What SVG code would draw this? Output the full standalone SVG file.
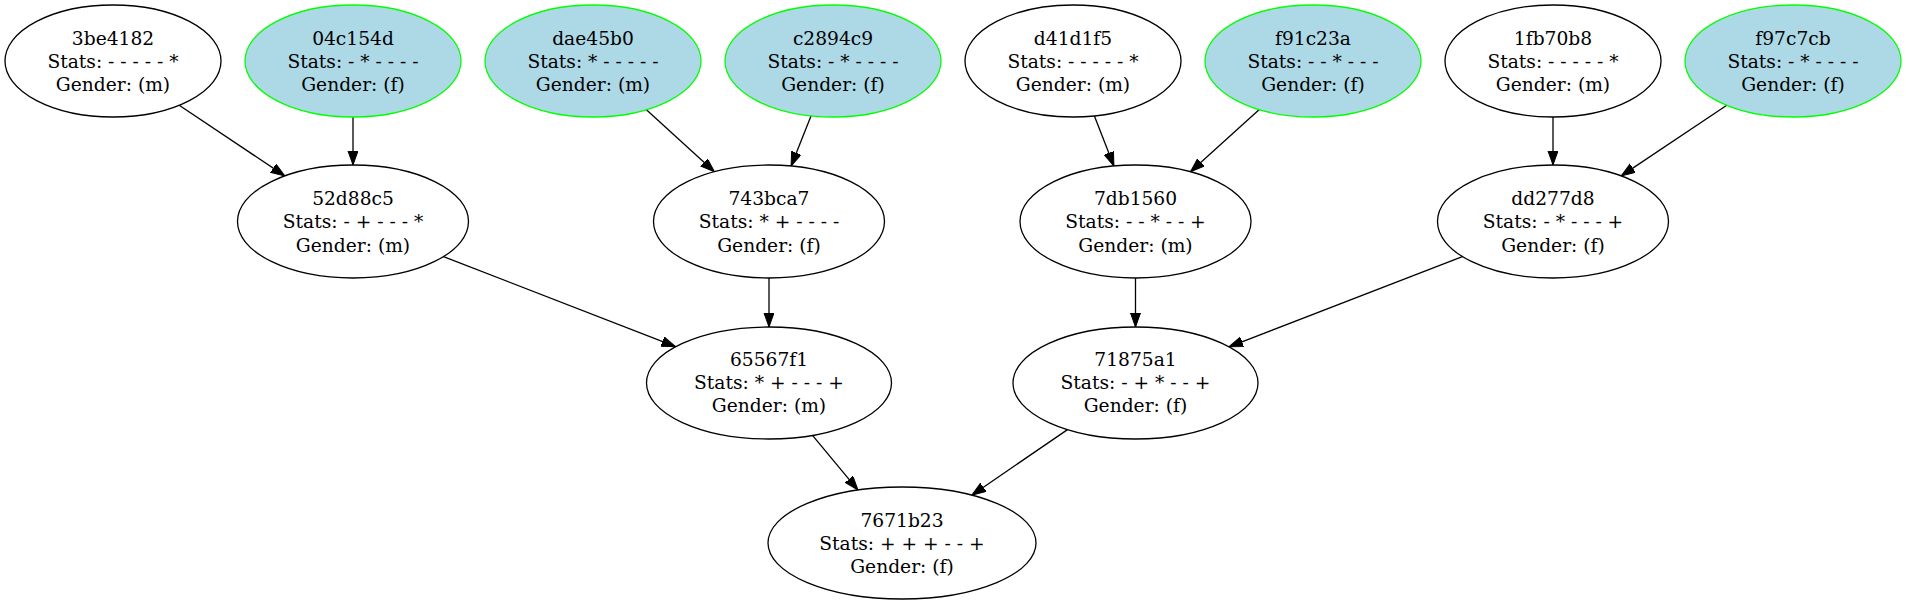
<svg xmlns="http://www.w3.org/2000/svg" width="1906" height="605" viewBox="0 0 1906 605">
<style>
.n ellipse{fill:#ffffff;stroke:#000000;stroke-width:1.3}
.n.h ellipse{fill:#add8e6;stroke:#00ff00}
.n text{font-family:"DejaVu Serif","Liberation Serif",serif;font-size:18.67px;fill:#000000;text-anchor:middle}
#edges line{stroke:#000000;stroke-width:1.3;marker-end:url(#ah)}
</style>
<defs>
<marker id="ah" markerUnits="userSpaceOnUse" markerWidth="16" markerHeight="12" refX="14" refY="5" orient="auto">
<path d="M0,0 L14,5 L0,10 Z" fill="#000000" stroke="#000000" stroke-width="1"/>
</marker>
</defs>
<rect width="1906" height="605" fill="#ffffff"/>
<g id="edges">
<line x1="179.2" y1="105.3" x2="284.8" y2="175.9"/>
<line x1="353" y1="117" x2="353" y2="165"/>
<line x1="646.4" y1="109.7" x2="714.4" y2="171.7"/>
<line x1="811.1" y1="115.8" x2="791.1" y2="166"/>
<line x1="1094.4" y1="115.9" x2="1113.9" y2="166"/>
<line x1="1259.3" y1="109.6" x2="1190.5" y2="171.8"/>
<line x1="1553" y1="117" x2="1553" y2="165"/>
<line x1="1726.8" y1="105.3" x2="1621.2" y2="175.9"/>
<line x1="443.5" y1="256.6" x2="675.6" y2="346.7"/>
<line x1="769" y1="278" x2="769" y2="327"/>
<line x1="1135.5" y1="278" x2="1135.5" y2="327"/>
<line x1="1462.4" y1="256.6" x2="1229" y2="346.8"/>
<line x1="812.5" y1="435.3" x2="858" y2="490.1"/>
<line x1="1067.5" y1="429.6" x2="971.8" y2="495.2"/>
</g>
<g id="n3be4182" class="n"><ellipse cx="113" cy="61" rx="108" ry="56"/><text x="113" y="45">3be4182</text><text x="113" y="68">Stats: - - - - - *</text><text x="113" y="91">Gender: (m)</text></g>
<g id="n04c154d" class="n h"><ellipse cx="353" cy="61" rx="108" ry="56"/><text x="353" y="45">04c154d</text><text x="353" y="68">Stats: - * - - - -</text><text x="353" y="91">Gender: (f)</text></g>
<g id="ndae45b0" class="n h"><ellipse cx="593" cy="61" rx="108" ry="56"/><text x="593" y="45">dae45b0</text><text x="593" y="68">Stats: * - - - - -</text><text x="593" y="91">Gender: (m)</text></g>
<g id="nc2894c9" class="n h"><ellipse cx="833" cy="61" rx="108" ry="56"/><text x="833" y="45">c2894c9</text><text x="833" y="68">Stats: - * - - - -</text><text x="833" y="91">Gender: (f)</text></g>
<g id="nd41d1f5" class="n"><ellipse cx="1073" cy="61" rx="108" ry="56"/><text x="1073" y="45">d41d1f5</text><text x="1073" y="68">Stats: - - - - - *</text><text x="1073" y="91">Gender: (m)</text></g>
<g id="nf91c23a" class="n h"><ellipse cx="1313" cy="61" rx="108" ry="56"/><text x="1313" y="45">f91c23a</text><text x="1313" y="68">Stats: - - * - - -</text><text x="1313" y="91">Gender: (f)</text></g>
<g id="n1fb70b8" class="n"><ellipse cx="1553" cy="61" rx="108" ry="56"/><text x="1553" y="45">1fb70b8</text><text x="1553" y="68">Stats: - - - - - *</text><text x="1553" y="91">Gender: (m)</text></g>
<g id="nf97c7cb" class="n h"><ellipse cx="1793" cy="61" rx="108" ry="56"/><text x="1793" y="45">f97c7cb</text><text x="1793" y="68">Stats: - * - - - -</text><text x="1793" y="91">Gender: (f)</text></g>
<g id="n52d88c5" class="n"><ellipse cx="353" cy="221.5" rx="115.5" ry="56.5"/><text x="353" y="205">52d88c5</text><text x="353" y="228">Stats: - + - - - *</text><text x="353" y="251.5">Gender: (m)</text></g>
<g id="n743bca7" class="n"><ellipse cx="769" cy="221.5" rx="115.5" ry="56.5"/><text x="769" y="205">743bca7</text><text x="769" y="228">Stats: * + - - - -</text><text x="769" y="251.5">Gender: (f)</text></g>
<g id="n7db1560" class="n"><ellipse cx="1135.5" cy="221.5" rx="115.5" ry="56.5"/><text x="1135.5" y="205">7db1560</text><text x="1135.5" y="228">Stats: - - * - - +</text><text x="1135.5" y="251.5">Gender: (m)</text></g>
<g id="ndd277d8" class="n"><ellipse cx="1553" cy="221.5" rx="115.5" ry="56.5"/><text x="1553" y="205">dd277d8</text><text x="1553" y="228">Stats: - * - - - +</text><text x="1553" y="251.5">Gender: (f)</text></g>
<g id="n65567f1" class="n"><ellipse cx="769" cy="383" rx="122.5" ry="56"/><text x="769" y="366">65567f1</text><text x="769" y="389">Stats: * + - - - +</text><text x="769" y="412">Gender: (m)</text></g>
<g id="n71875a1" class="n"><ellipse cx="1135.5" cy="383" rx="122.5" ry="56"/><text x="1135.5" y="366">71875a1</text><text x="1135.5" y="389">Stats: - + * - - +</text><text x="1135.5" y="412">Gender: (f)</text></g>
<g id="n7671b23" class="n"><ellipse cx="902" cy="543" rx="134" ry="56"/><text x="902" y="526.5">7671b23</text><text x="902" y="549.5">Stats: + + + - - +</text><text x="902" y="572.5">Gender: (f)</text></g>
</svg>
